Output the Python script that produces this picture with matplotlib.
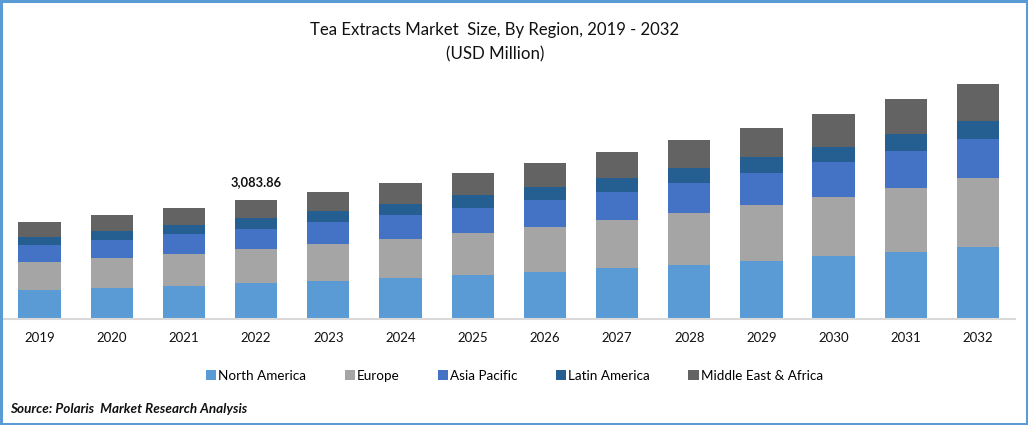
import matplotlib
matplotlib.use('Agg')
import matplotlib.pyplot as plt
from matplotlib.patches import Rectangle

plt.rcParams['font.family'] = ['Lato', 'DejaVu Sans']

years = ['2019', '2020', '2021', '2022', '2023', '2024', '2025', '2026', '2027', '2028', '2029', '2030', '2031', '2032']
north_america = [751, 803, 855, 933.86, 984, 1062, 1140, 1217, 1321, 1399, 1502, 1632, 1735, 1865]
europe = [725, 777, 829, 881, 958, 1010, 1088, 1166, 1243, 1347, 1450, 1528, 1658, 1787]
asia_pacific = [440, 466, 518, 518, 570, 622, 648, 699, 725, 777, 829, 907, 958, 1010]
latin_america = [207, 233, 233, 285, 285, 285, 337, 337, 363, 389, 414, 389, 440, 466]
middle_east = [389, 414, 440, 466, 492, 544, 570, 622, 673, 725, 751, 855, 907, 958]

names = ['North America', 'Europe', 'Asia Pacific', 'Latin America', 'Middle East & Africa']
colors = ['#5B9BD5', '#A5A5A5', '#4472C4', '#255E91', '#636363']
series = [north_america, europe, asia_pacific, latin_america, middle_east]

W, H = 1028, 425
fig = plt.figure(figsize=(W/100, H/100), dpi=100)
ax = fig.add_axes([3.4/W, 1 - 319/H, 1011.4/W, 300/H])

x = list(range(len(years)))
bottom = [0.]*len(years)
for s, name, c in zip(series, names, colors):
    ax.bar(x, s, width=0.585, bottom=bottom, color=c, label=name, linewidth=0)
    bottom = [b+v for b, v in zip(bottom, s)]

ax.set_xlim(-0.5, 13.51)
ax.set_ylim(0, 300*25.915)
ax.set_yticks([])
ax.set_xticks(x)
ax.set_xticklabels(years, fontsize=9.5, color='#111111')
ax.tick_params(axis='x', length=0, pad=9)
for sp in ['top', 'left', 'right']:
    ax.spines[sp].set_visible(False)
ax.spines['bottom'].set_color('#D9D9D9')
ax.spines['bottom'].set_linewidth(1.5)
ax.patch.set_alpha(0)

# value label over 2022
ax.annotate(f'{bottom[3]:,.2f}', (3, bottom[3]), xytext=(0, 12), textcoords='offset pixels',
            ha='center', va='bottom', fontsize=9.3, fontweight='bold', color='#111111')

fig.text(495/W, 1 - 30/H, 'Tea Extracts Market  Size, By Region, 2019 - 2032', ha='center', va='center', fontsize=12.1, color='#111111')
fig.text(495/W, 1 - 54/H, '(USD Million)', ha='center', va='center', fontsize=12.2, color='#111111')
fig.text(10/W, 1 - 409/H, 'Source: Polaris  Market Research Analysis', ha='left', va='center',
         fontsize=9.7, fontweight='bold', fontstyle='italic', color='#111111')

fig.legend(loc='center', bbox_to_anchor=(514.5/W, 1 - 376/H), ncol=5, frameon=False, fontsize=9.7,
           handlelength=0.75, handleheight=0.75, handletextpad=0.15, columnspacing=2.85)

# outer blue frame
fig.add_artist(Rectangle((1.2/W, 1.2/H), (W-2.4)/W, (H-2.4)/H, transform=fig.transFigure,
                         fill=False, edgecolor='#5B9BD5', linewidth=2.2))

fig.savefig('out.png', dpi=100)
plt.close(fig)
